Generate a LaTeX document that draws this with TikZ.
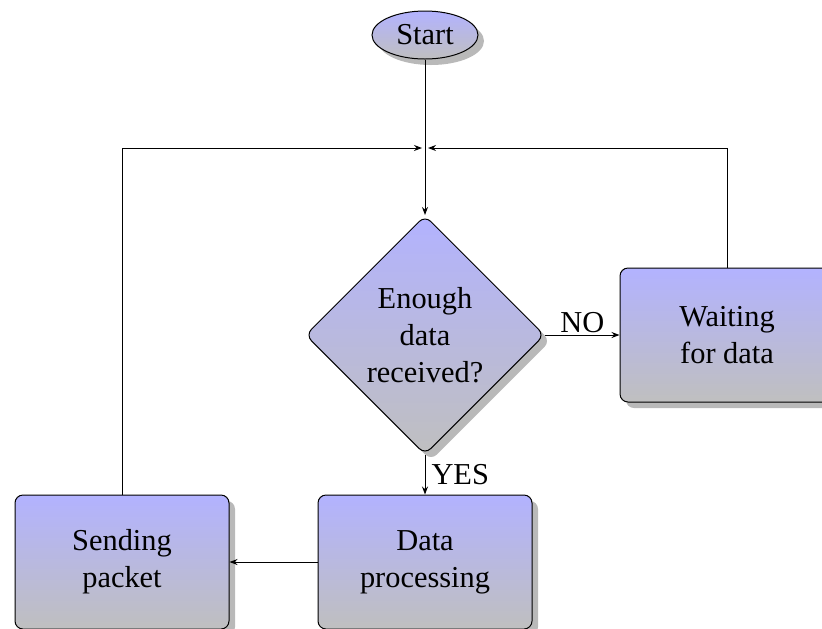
\documentclass[tikz,border=0pt]{standalone}
\usepackage{fontspec}
\setmainfont{Liberation Serif}
\usetikzlibrary{shapes.geometric,arrows.meta,shadows}

\newcommand{\flowfont}{\fontsize{15.2}{18.5}\selectfont}

\tikzset{
  x=0.5pt, y=-0.5pt,
  flowfill/.style={top color=blue!30, bottom color=gray!50, draw=black, line width=0.5pt,
    drop shadow={shadow xshift=3pt, shadow yshift=-3pt, fill=black!50, opacity=0.55}},
  procbox/.style={flowfill, rectangle, rounded corners=4pt, minimum width=107pt,
    minimum height=67pt, inner sep=0pt, align=center, font=\flowfont},
  decbox/.style={flowfill, diamond, rounded corners=4pt, minimum width=119.5pt,
    minimum height=119.5pt, inner sep=0pt, align=center, font=\flowfont},
  startbox/.style={flowfill, ellipse, minimum width=53pt, minimum height=24pt,
    inner sep=0pt, font=\flowfont},
  flowline/.style={line width=0.5pt, -{Stealth[length=4pt,width=3pt]}},
  edgelabel/.style={font=\flowfont, inner sep=1pt},
}

\begin{document}
\begin{tikzpicture}
  \useasboundingbox (0,0) rectangle (822,628);

  % nodes
  \node[startbox] (start) at (425,35) {Start};
  \node[decbox] (enough) at (425,335) {Enough\\data\\received?};
  \node[procbox] (wait) at (727,335) {Waiting\\for data};
  \node[procbox] (proc) at (425,562) {Data\\processing};
  \node[procbox] (send) at (122,562) {Sending\\packet};

  % junction above the decision
  \coordinate (join) at (425,148);

  % connectors
  \draw[flowline] (start) -- (enough);
  \draw[flowline, shorten >=1.5pt] (send.north) |- (join);
  \draw[flowline, shorten >=1.5pt] (wait.north) |- (join);
  \draw[flowline] (enough.east) -- node[edgelabel, above] {NO} (wait.west);
  \draw[flowline] (enough.south) -- node[edgelabel, right, xshift=2pt] {YES} (proc.north);
  \draw[flowline] (proc.west) -- (send.east);
\end{tikzpicture}
\end{document}
